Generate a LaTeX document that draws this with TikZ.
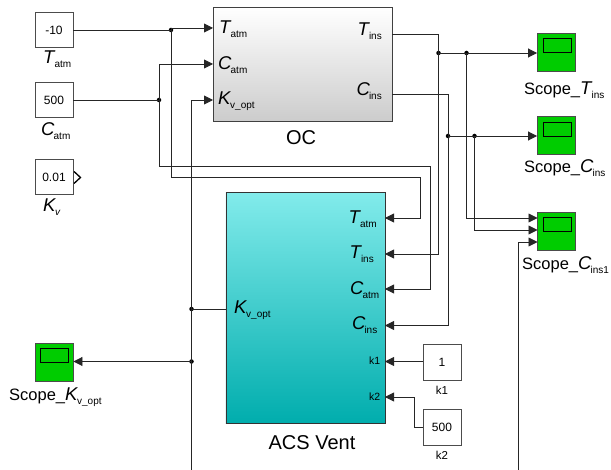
\documentclass[tikz,border=0pt]{standalone}
\usepackage{fontspec}
\setmainfont{Liberation Sans}
\usetikzlibrary{arrows.meta,calc}
\definecolor{acstop}{HTML}{82EBEB}
\definecolor{acsbot}{HTML}{00ADAD}
\definecolor{scopegreen}{HTML}{00CC00}
\newcommand{\bigv}[2]{{\fontsize{18.5}{18}\selectfont\textit{#1}}\kern-1pt{\fontsize{10}{10}\selectfont\raisebox{-4.5pt}{#2}}}
\newcommand{\scopelab}[2]{{\fontsize{16.5}{16}\selectfont Scope\_}\bigv{#1}{#2}}
\tikzset{
  x=1pt,y=-1pt,
  wire/.style={draw=black!85,line width=0.9pt},
  sig/.style={wire,-{Triangle[length=9pt,width=9pt]}},
  constbox/.style={draw=black!70,line width=0.9pt,fill=white,minimum width=38pt,minimum height=35pt,inner sep=0pt,font=\fontsize{12}{12}\selectfont},
  scopebox/.style={draw=black!70,line width=0.9pt,fill=scopegreen,minimum width=38pt,minimum height=38pt,inner sep=0pt},
  screen/.style={draw=black,line width=0.9pt,minimum width=28pt,minimum height=14pt,inner sep=0pt},
  plabel/.style={inner sep=0pt,text=black},
  jn/.style={circle,fill=black,inner sep=0pt,minimum size=4.5pt},
  bigcap/.style={inner sep=0pt,font=\fontsize{20}{20}\selectfont},
  smallcap/.style={inner sep=0pt,font=\fontsize{11.5}{12}\selectfont}
}
\begin{document}
\begin{tikzpicture}
\useasboundingbox (0,0) rectangle (611,470);
% blocks
\node[constbox] (ct) at (54,30) {-10};
\node[constbox] (cc) at (54,100) {500};
\node[constbox] (ck) at (54,177) {0.01};
\node[constbox,minimum height=36pt] (k1) at (442,362) {1};
\node[constbox,minimum height=36pt] (k2) at (442,427) {500};
\node[draw=black!75,line width=0.9pt,inner sep=0pt,minimum width=178.5pt,minimum height=114pt,anchor=north west,top color=white,bottom color=black!20] (oc) at (213,7) {};
\node[draw=black!80,line width=0.9pt,inner sep=0pt,minimum width=159.5pt,minimum height=231pt,anchor=north west,top color=acstop,bottom color=acsbot] (acs) at (225.5,192) {};
\node[scopebox] (st) at (556.5,52) {};
\node[scopebox] (sc) at (556.5,135.5) {};
\node[scopebox] (sc1) at (556.5,231) {};
\node[scopebox] (sk) at (54,362) {};
\node[screen] at (557,45.5) {};
\node[screen] at (557,129) {};
\node[screen] at (557,224.5) {};
\node[screen] at (54.5,355.5) {};
% ports
\coordinate (ocTa) at (213,28);
\coordinate (ocCa) at (213,64);
\coordinate (ocKv) at (213,100);
\coordinate (ocTi) at (392,34);
\coordinate (ocCi) at (392,94);
\coordinate (acTa) at (385,218);
\coordinate (acTi) at (385,254);
\coordinate (acCa) at (385,289);
\coordinate (acCi) at (385,325.5);
\coordinate (ack1) at (385,361.5);
\coordinate (ack2) at (385,397);
\coordinate (acKv) at (226,309);
\coordinate (kvbot) at (191,470);
\coordinate (s1bot) at (518,470);
% junctions
\node[jn] (j1) at (171,30) {};
\node[jn] (j2) at (159,100) {};
\node[jn] (j3) at (191.5,309) {};
\node[jn] (j4) at (191.5,361.5) {};
\node[jn] (j5) at (438.5,53) {};
\node[jn] (j6) at (466.5,53) {};
\node[jn] (j7) at (448,136) {};
\node[jn] (j8) at (474.5,136) {};
% connectors
\draw[wire] (ct.east) -- (j1.center);
\draw[sig] (j1.center) -- (171,28) -- (ocTa);
\draw[wire] (cc.east) -- (j2.center);
\draw[sig] (j2.center) -- (159,64) -- (ocCa);
\draw[sig] (kvbot -| j3) -- (191.5,100) -- (ocKv);
\draw[wire] (j3.center) -- (acKv);
\draw[sig] (j4.center) -- (sk.east |- j4);
\draw[sig] (j1.center) -- (171,177) -- (420,177) -- (420,218) -- (acTa);
\draw[sig] (j2.center) -- (159,166) -- (430,166) -- (430,289) -- (acCa);
\draw[sig] (ocTi) -- (438.5,34) -- (438.5,254) -- (acTi);
\draw[sig] (ocCi) -- (448,94) -- (448,325.5) -- (acCi);
\draw[sig] (j5.center) -- (st.west |- j5);
\draw[sig] (j7.center) -- (sc.west |- j7);
\draw[sig] (j6.center) -- (466.5,218) -- (537.5,218);
\draw[sig] (j8.center) -- (474.5,230) -- (537.5,230);
\draw[sig] (s1bot) -- (518,242) -- (537.5,242);
\draw[sig] (k1.west |- ack1) -- (ack1);
\draw[sig] (k2.west) -- (414,427) -- (414,397) -- (ack2);
% output arrow of the K_v block
\draw[line width=1.3pt,draw=black] (74,171.5) -- (80.5,177.5) -- (74,183.5);
% port labels
\node[plabel,anchor=west] at (219,29) {\bigv{T}{atm}};
\node[plabel,anchor=west] at (218,65) {\bigv{C}{atm}};
\node[plabel,anchor=west] at (218,101) {\bigv{K}{v\_opt}};
\node[plabel,anchor=east] at (382,31) {\bigv{T}{ins}};
\node[plabel,anchor=east] at (382,91) {\bigv{C}{ins}};
\node[plabel,anchor=east] at (377,219) {\bigv{T}{atm}};
\node[plabel,anchor=east] at (374,254) {\bigv{T}{ins}};
\node[plabel,anchor=east] at (379.5,290) {\bigv{C}{atm}};
\node[plabel,anchor=east] at (377.5,325) {\bigv{C}{ins}};
\node[plabel,anchor=east,font=\fontsize{10.5}{11}\selectfont] at (380.5,361) {k1};
\node[plabel,anchor=east,font=\fontsize{10.5}{11}\selectfont] at (380.5,397) {k2};
\node[plabel,anchor=west] at (234,310) {\bigv{K}{v\_opt}};
% captions
\node[plabel,anchor=west] at (43,59) {\bigv{T}{atm}};
\node[plabel,anchor=west] at (41,131) {\bigv{C}{atm}};
\node[plabel,anchor=west] at (43,207) {\bigv{K}{\textit{v}}};
\node[bigcap] at (301,138) {OC};
\node[bigcap] at (312,443) {ACS Vent};
\node[smallcap] at (442,390) {k1};
\node[smallcap] at (442,455) {k2};
\node[plabel,anchor=west] at (524,90) {\scopelab{T}{ins}};
\node[plabel,anchor=west] at (524,168) {\scopelab{C}{ins}};
\node[plabel,anchor=west] at (522,265) {\scopelab{C}{ins1}};
\node[plabel,anchor=west] at (9,397) {\scopelab{K}{v\_opt}};
\end{tikzpicture}
\end{document}
